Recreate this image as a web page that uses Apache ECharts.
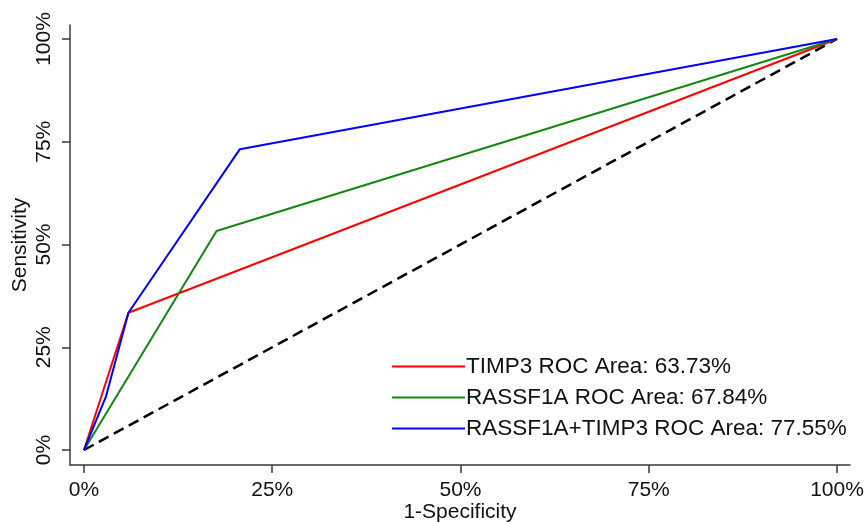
<!DOCTYPE html>
<html>
<head>
<meta charset="utf-8">
<script src="https://cdn.jsdelivr.net/npm/echarts@6/dist/echarts.min.js"></script>
<style>
  html, body { margin: 0; padding: 0; background: #fff; }
  #ROC { width: 866px; height: 522px; }
</style>
</head>
<body>
<div id="ROC"></div>
<script>
// ROC curves, values in percent: [1-specificity, sensitivity]
var timp3Points = [[0, 0], [5.9, 33.4], [100, 100]];
var rassf1aPoints = [[0, 0], [17.6, 53.3], [100, 100]];
var comboPoints = [[0, 0], [2.9, 12.9], [5.9, 33.4], [20.7, 73.2], [100, 100]];
var refPoints = [[0, 0], [100, 100]];

var seriesNames = ['TIMP3 ROC Area: 63.73%', 'RASSF1A ROC Area: 67.84%', 'RASSF1A+TIMP3 ROC Area: 77.55%'];
var tickValues = [0, 25, 50, 75, 100];

(function () {
	var rocChart = echarts.init(document.getElementById('ROC'));
	var font = 'Liberation Sans, Arial, sans-serif';
	var axisColor = '#3a3a3a';

	var option = {
		animation: false,
		backgroundColor: '#fff',
		grid: {
			left: 70,
			right: 16,
			top: 25,
			bottom: 57,
			containLabel: false,
			outerBoundsMode: 'none'
		},
		legend: {
			orient: 'vertical',
			left: 392,
			top: 355,
			padding: 0,
			icon: 'rect',
			itemWidth: 73,
			itemHeight: 2,
			itemGap: 8,
			data: seriesNames,
			textStyle: {
				fontFamily: font,
				fontSize: 22.5,
				lineHeight: 22,
				color: '#111',
				padding: [0, 0, 0, -4]
			}
		},
		xAxis: {
			type: 'value',
			min: -1.859,
			max: 101.727,
			name: '1-Specificity',
			nameLocation: 'middle',
			nameGap: 37,
			nameMoveOverlap: false,
			nameTextStyle: { fontFamily: font, fontSize: 21, color: '#111' },
			splitLine: { show: false },
			axisLine: { show: true, onZero: false, lineStyle: { color: axisColor, width: 1.5 } },
			axisTick: { show: true, length: 8, customValues: tickValues, lineStyle: { color: axisColor, width: 1.5 } },
			axisLabel: {
				customValues: tickValues,
				margin: 15,
				fontFamily: font,
				fontSize: 21,
				color: '#111',
				formatter: function (v) { return v + '%'; }
			}
		},
		yAxis: {
			type: 'value',
			min: -3.65,
			max: 103.41,
			name: 'Sensitivity',
			nameLocation: 'middle',
			nameGap: 39,
			nameMoveOverlap: false,
			nameTextStyle: { fontFamily: font, fontSize: 21, color: '#111' },
			splitLine: { show: false },
			axisLine: { show: true, onZero: false, lineStyle: { color: axisColor, width: 1.5 } },
			axisTick: { show: true, length: 8, customValues: tickValues, lineStyle: { color: axisColor, width: 1.5 } },
			axisLabel: {
				customValues: tickValues,
				rotate: 90,
				margin: 15,
				fontFamily: font,
				fontSize: 21,
				color: '#111',
				formatter: function (v) { return v + '%'; }
			}
		},
		series: [
			{
				name: 'reference',
				type: 'line',
				data: refPoints,
				symbol: 'none',
				silent: true,
				lineStyle: { color: '#000', width: 2.5, type: [11, 6] }
			},
			{
				name: seriesNames[0],
				type: 'line',
				data: timp3Points,
				symbol: 'none',
				color: '#ff0000',
				lineStyle: { color: '#ff0000', width: 2 }
			},
			{
				name: seriesNames[1],
				type: 'line',
				data: rassf1aPoints,
				symbol: 'none',
				color: '#118811',
				lineStyle: { color: '#118811', width: 2 }
			},
			{
				name: seriesNames[2],
				type: 'line',
				data: comboPoints,
				symbol: 'none',
				color: '#0000ff',
				lineStyle: { color: '#0000ff', width: 2 }
			}
		]
	};

	rocChart.setOption(option);

	window.onresize = function () {
		rocChart.resize();
	};
})();
</script>
</body>
</html>
